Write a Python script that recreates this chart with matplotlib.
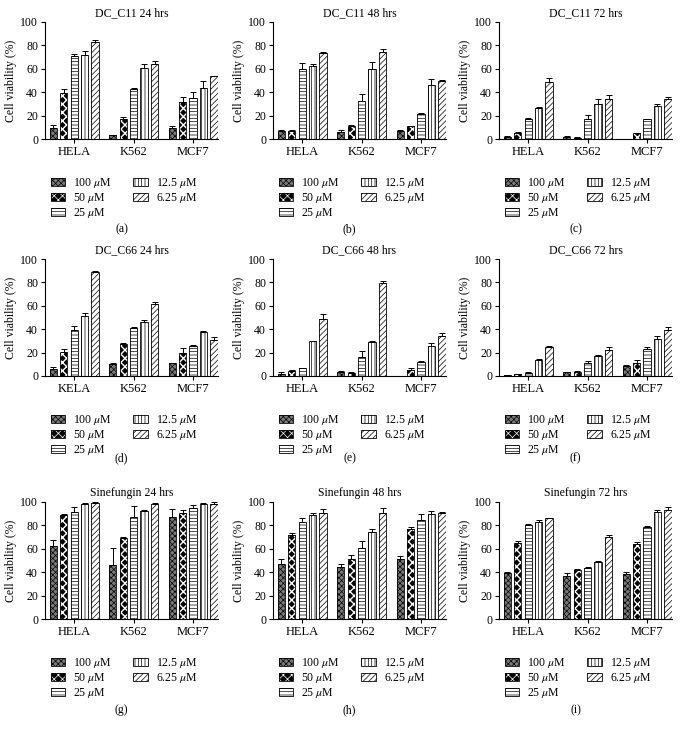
import numpy as np
import matplotlib
matplotlib.use("Agg")
import matplotlib.pyplot as plt
from matplotlib.patches import Patch
from matplotlib.legend_handler import HandlerTuple

plt.rcParams.update({
    "font.family": ["Liberation Serif", "DejaVu Serif"],
    "mathtext.fontset": "stix",
    "font.size": 8,
    "hatch.linewidth": 0.5,
    "axes.linewidth": 0.8,
})

# ---------------------------------------------------------------------------
# Datos: viabilidad (%) y error (SEM, solo hacia arriba)
# orden de concentraciones: 100, 50, 25, 12.5, 6.25 µM
# ---------------------------------------------------------------------------
concentrations = ["100", "50", "25", "12.5", "6.25"]
titles = [
    "DC_C11 24 hrs", "DC_C11 48 hrs", "DC_C11 72 hrs",
    "DC_C66 24 hrs", "DC_C66 48 hrs", "DC_C66 72 hrs",
    "Sinefungin 24 hrs", "Sinefungin 48 hrs", "Sinefungin 72 hrs",
]
panel_labels = ["(a)", "(b)", "(c)", "(d)", "(e)", "(f)", "(g)", "(h)", "(i)"]
cells_default = ["HELA", "K562", "MCF7"]
cells_d = ["KELA", "K562", "MCF7"]

# filas = líneas celulares, columnas = concentraciones
c11_24 = [[9.5, 39, 71, 72, 82.5], [3, 17.5, 43, 60.5, 64.5], [9, 31.5, 35, 44, 53.5]]
c11_24_err = [[2.5, 4, 1.5, 3, 2], [0.5, 1, 1, 3.5, 2], [2, 4, 5, 5.5, 0.5]]
c11_48 = [[6.5, 7, 59.5, 62, 73.5], [6, 11, 32.5, 60, 74], [7, 11, 21, 46.5, 50]]
c11_48_err = [[1, 0.5, 5.5, 2.5, 0.5], [1.5, 1, 6, 6, 3], [0.5, 0.5, 1.5, 4.5, 0.5]]
c11_72 = [[2, 5, 17.5, 26.5, 48.5], [2, 1, 17.5, 30, 34], [0.3, 5, 17, 28, 34.5]]
c11_72_err = [[0.5, 1, 0.5, 1, 3.5], [0.5, 0.5, 3, 4.5, 4], [0, 0.5, 0.5, 1.5, 1.5]]
c66_24 = [[6, 20.5, 39.5, 51, 88.5], [10.5, 27.5, 41, 46, 61.5], [11, 19.5, 26, 37.5, 31]]
c66_24_err = [[2, 3, 3.5, 3, 1.5], [0.5, 0.5, 1, 1.5, 1.5], [0.5, 4.5, 0.5, 1, 2]]
c66_48 = [[2, 4.5, 6.5, 29.5, 48.5], [3, 2.5, 16, 29, 79.5], [0, 5.5, 12, 25.5, 34]]
c66_48_err = [[1.5, 1, 0.5, 0.5, 4.5], [1, 0.5, 5.5, 0.5, 1.5], [0, 1, 0.5, 3, 3]]
c66_72 = [[0.5, 1.5, 2.5, 14, 25], [3.5, 3.5, 11.5, 17.5, 22.5], [8.5, 11.5, 23.5, 31.5, 39.5]]
c66_72_err = [[0.2, 0.3, 0.5, 0.5, 1], [0.3, 0.5, 1.5, 0.5, 2], [0.5, 2.5, 1.5, 3, 2.5]]
sin_24 = [[62.5, 88.5, 91.5, 98, 99.5], [46, 69.5, 87.5, 92, 98.5], [87.5, 90.5, 95, 98.5, 98]]
sin_24_err = [[5, 1.5, 4, 1, 0.5], [15, 0.5, 9, 1.5, 0.5], [6.5, 2.5, 2.5, 1, 2]]
sin_48 = [[47, 72, 83, 88.5, 91], [44.5, 51.5, 61, 74, 91], [51, 76.5, 85, 90, 91]]
sin_48_err = [[4, 1.5, 3.5, 2, 3], [2.5, 3, 6, 2.5, 3.5], [2.5, 2, 5, 2.5, 0.5]]
sin_72 = [[39.5, 65, 80, 82.5, 86], [37, 42, 44, 49, 70], [38.5, 64, 79, 91.5, 93]]
sin_72_err = [[1, 1.5, 1.5, 2.5, 0.5], [2, 0.5, 0.5, 0.5, 1.5], [2, 2, 0.5, 1.5, 3]]

panels = [
    (c11_24, c11_24_err), (c11_48, c11_48_err), (c11_72, c11_72_err),
    (c66_24, c66_24_err), (c66_48, c66_48_err), (c66_72, c66_72_err),
    (sin_24, sin_24_err), (sin_48, sin_48_err), (sin_72, sin_72_err),
]

# estilo de cada concentración: (relleno, color de trama, trama, grosor de trama)
STYLES = [
    ("#7a7a7a", "black", "xxxxxx", 0.5),
    ("black", "white", "xxxx", 1.0),
    ("white", "black", "-----", 0.5),
    ("white", "black", "|||||", 0.5),
    ("white", "black", "//////", 0.5),
]


def set_hatch_lw(artist, lw):
    if hasattr(artist, "set_hatch_linewidth"):
        artist.set_hatch_linewidth(lw)
    else:
        artist._hatch_linewidth = lw


W, H = 683, 730
col_left = [45, 273, 499]
row_top = [22, 259, 502]
label_y = [229, 458, 710]
ax_w, ax_h = 173, 117
bar_w = 0.12
step = 0.176

fig = plt.figure(figsize=(W / 100, H / 100), dpi=100)

for i, (vals, errs) in enumerate(panels):
    r, c = divmod(i, 3)
    left, top = col_left[c], row_top[r]
    ax = fig.add_axes([left / W, (H - top - ax_h) / H, ax_w / W, ax_h / H])
    vals = np.array(vals)
    errs = np.array(errs)
    x = np.arange(vals.shape[0])
    for k, (fc, hc, hatch, hlw) in enumerate(STYLES):
        xs = x + (k - 2) * step
        bars = ax.bar(xs, vals[:, k], width=bar_w, color=fc, edgecolor=hc,
                      hatch=hatch, linewidth=0, zorder=2)
        for b in bars:
            set_hatch_lw(b, hlw)
        ax.bar(xs, vals[:, k], width=bar_w, fill=False, edgecolor="black",
               linewidth=0.6, zorder=3)
        ax.errorbar(xs, vals[:, k], yerr=[np.zeros(len(xs)), errs[:, k]],
                    fmt="none", ecolor="black", elinewidth=0.7,
                    capsize=2, capthick=0.7, zorder=4)

    ax.set_xlim(-0.49, 2.42)
    ax.set_ylim(0, 100)
    ax.set_yticks(range(0, 101, 20))
    ax.set_xticks(x)
    ax.set_xticklabels(cells_d if i == 3 else cells_default, fontsize=9)
    ax.tick_params(axis="y", labelsize=8.5, length=3, width=0.8, pad=2)
    ax.tick_params(axis="x", length=3, width=0.8, pad=2)
    for s in ("top", "right"):
        ax.spines[s].set_visible(False)
    ax.set_ylabel("Cell viability (%)", fontsize=8.5, labelpad=2)
    ax.set_title(titles[i], fontsize=8.5, pad=4)

    # leyenda: relleno con trama + contorno negro superpuestos
    handles = []
    for fc, hc, hatch, hlw in STYLES:
        p = Patch(facecolor=fc, edgecolor=hc, hatch=hatch, linewidth=0)
        set_hatch_lw(p, hlw)
        outline = Patch(fill=False, edgecolor="black", linewidth=0.6)
        handles.append((p, outline))
    labels = [f"{cc} $\\mu$M" for cc in concentrations]
    fig.legend(handles, labels, ncol=2, frameon=False,
               loc="upper left",
               bbox_to_anchor=(left / W, (H - top - ax_h - 31) / H),
               handler_map={tuple: HandlerTuple(ndivide=1, pad=0)},
               fontsize=8.5, handlelength=1.2, handleheight=0.7,
               handletextpad=0.7, labelspacing=0.08, columnspacing=1.8,
               borderpad=0)

    fig.text((left + ax_w / 2 - 10) / W, 1 - label_y[r] / H, panel_labels[i],
             ha="center", va="center", fontsize=8.5)

fig.savefig("out.png", dpi=100)
